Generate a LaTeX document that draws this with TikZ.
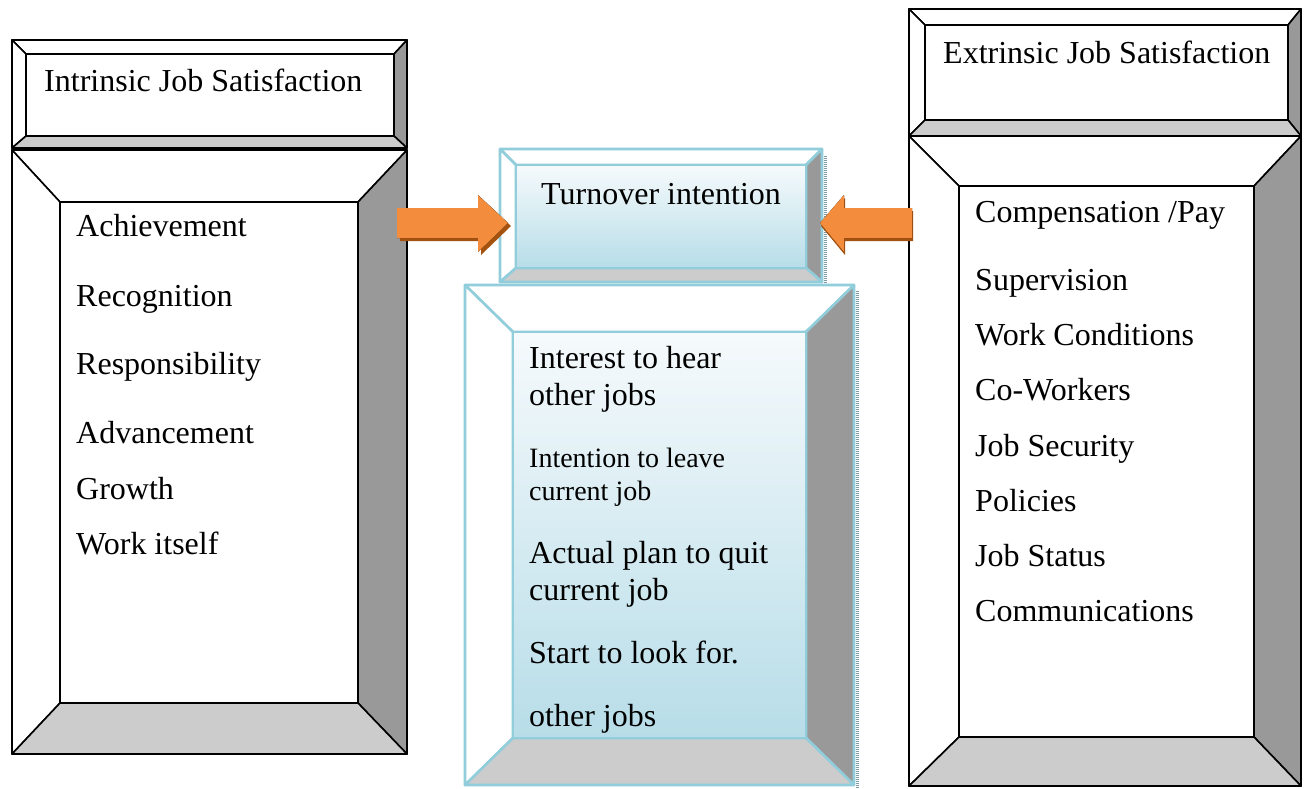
\documentclass[tikz,border=0pt]{standalone}
\usepackage{fontspec}
\setmainfont{Liberation Serif}
\usetikzlibrary{calc}

\definecolor{edgeblue}{HTML}{92CDDC}
\definecolor{sidedark}{HTML}{999999}
\definecolor{sidelight}{HTML}{CCCCCC}
\definecolor{innertop}{HTML}{F6FAFC}
\definecolor{innerbot}{HTML}{B7DDE8}
\definecolor{arroworange}{HTML}{F38C3C}
\definecolor{arrowlight}{HTML}{F9A865}
\definecolor{arrowshadow}{HTML}{A4520E}
\definecolor{hatch}{HTML}{7F99A6}

\tikzset{
  blackedge/.style={draw=black,line width=1.6pt,line join=round},
  blueedge/.style={draw=edgeblue,line width=2.6pt,line join=round},
  plainfill/.style={fill=white},
  bluefill/.style={top color=innertop,bottom color=innerbot},
  item/.style={anchor=base west,inner sep=0pt,font=\fontsize{32}{36}\selectfont},
  smallitem/.style={anchor=base west,inner sep=0pt,font=\fontsize{28}{32}\selectfont},
  blockarrow/.style={top color=arroworange,middle color=arrowlight,bottom color=arroworange,draw=none},
  blockshadow/.style={fill=arrowshadow,draw=none},
  hatchshadow/.style={draw=hatch,line width=3pt,dash pattern=on 1pt off 1pt}
}

% bevelled box: #1 = name prefix, #2 = edge style, #3 = inner fill style
\newcommand{\bevelbox}[3]{%
  \filldraw[#2,fill=white] (#1a) -- (#1a -| #1b) -- (#1c -| #1d) -- (#1c) -- cycle;
  \filldraw[#2,fill=white] (#1a) -- (#1c) -- (#1c |- #1d) -- (#1a |- #1b) -- cycle;
  \filldraw[#2,fill=sidedark] (#1a -| #1b) -- (#1b) -- (#1d) -- (#1c -| #1d) -- cycle;
  \filldraw[#2,fill=sidelight] (#1a |- #1b) -- (#1b) -- (#1d) -- (#1c |- #1d) -- cycle;
  \draw[#2,#3] (#1c) rectangle (#1d);
  \draw[#2] (#1a) rectangle (#1b);
}

\begin{document}
\begin{tikzpicture}[x=1pt,y=-1pt]

\useasboundingbox[fill=white] (0,0) rectangle (1307,788);

% left column
\coordinate (lta) at (12,40);  \coordinate (ltb) at (407,148);
\coordinate (ltc) at (26,54);  \coordinate (ltd) at (394,136);
\coordinate (lba) at (12,150); \coordinate (lbb) at (407,754);
\coordinate (lbc) at (60,202); \coordinate (lbd) at (358,703);

% right column
\coordinate (rta) at (909,9);   \coordinate (rtb) at (1301,136);
\coordinate (rtc) at (925,25);  \coordinate (rtd) at (1288,120);
\coordinate (rba) at (909,136); \coordinate (rbb) at (1301,786);
\coordinate (rbc) at (959,186); \coordinate (rbd) at (1254,737);

% centre column
\coordinate (cta) at (500,149); \coordinate (ctb) at (822,282);
\coordinate (ctc) at (516,165); \coordinate (ctd) at (806,268);
\coordinate (cba) at (465,285); \coordinate (cbb) at (854,785);
\coordinate (cbc) at (513,332); \coordinate (cbd) at (806,738);

\draw[hatchshadow] ($(ctb)+(3,-126)$) -- ($(ctb)+(3,3)$) -- ($(ctb)+(-318,3)$);
\draw[hatchshadow] ($(cbb)+(3,-494)$) -- ($(cbb)+(3,3)$);

\bevelbox{lt}{blackedge}{plainfill}
\bevelbox{lb}{blackedge}{plainfill}
\bevelbox{rt}{blackedge}{plainfill}
\bevelbox{rb}{blackedge}{plainfill}
\bevelbox{cb}{blueedge}{bluefill}
\bevelbox{ct}{blueedge}{bluefill}

% titles
\node[item] (intrinsic) at (44,91) {Intrinsic Job Satisfaction};
\node[item] (extrinsic) at (943,63) {Extrinsic Job Satisfaction};
\node[item] (turnover) at (541,204) {Turnover intention};

% intrinsic factors
\node[item] (achieve) at (76,236) {Achievement};
\node[item] (recog) at (76,306) {Recognition};
\node[item] (respons) at (76,374) {Responsibility};
\node[item] (advance) at (76,443) {Advancement};
\node[item] (growth) at (76,499) {Growth};
\node[item] (workit) at (76,554) {Work itself};

% turnover items
\node[item] (hear1) at (529,368) {Interest to hear};
\node[item] (hear2) at (529,405) {other jobs};
\node[smallitem] (leave1) at (529,467) {Intention to leave};
\node[smallitem] (leave2) at (529,500) {current job};
\node[item] (quit1) at (529,563) {Actual plan to quit};
\node[item] (quit2) at (529,600) {current job};
\node[item] (look1) at (529,663) {Start to look for.};
\node[item] (look2) at (529,726) {other jobs};

% extrinsic factors
\node[item] (pay) at (975,222) {Compensation /Pay};
\node[item] (superv) at (975,290) {Supervision};
\node[item] (workcond) at (975,345) {Work Conditions};
\node[item] (cowork) at (975,400) {Co-Workers};
\node[item] (security) at (975,456) {Job Security};
\node[item] (policy) at (975,511) {Policies};
\node[item] (status) at (975,566) {Job Status};
\node[item] (comm) at (975,621) {Communications};

% arrows into turnover intention
\coordinate (lefttail) at (397,223);
\coordinate (righttail) at (912,223);
\fill[blockshadow] ($(lefttail)+(3,3)$) ++(0,-15) -- ++(81,0) -- ++(0,-13) -- ++(30,28) -- ++(-30,29) -- ++(0,-14) -- ++(-81,0) -- cycle;
\fill[blockarrow] (lefttail) ++(0,-15) -- ++(81,0) -- ++(0,-13) -- ++(30,28) -- ++(-30,29) -- ++(0,-14) -- ++(-81,0) -- cycle;
\fill[blockshadow] ($(righttail)+(1,3)$) ++(0,-15) -- ++(-68,0) -- ++(0,-13) -- ++(-24,28) -- ++(24,29) -- ++(0,-14) -- ++(68,0) -- cycle;
\fill[blockarrow] (righttail) ++(0,-15) -- ++(-68,0) -- ++(0,-13) -- ++(-24,28) -- ++(24,29) -- ++(0,-14) -- ++(68,0) -- cycle;

\end{tikzpicture}
\end{document}
